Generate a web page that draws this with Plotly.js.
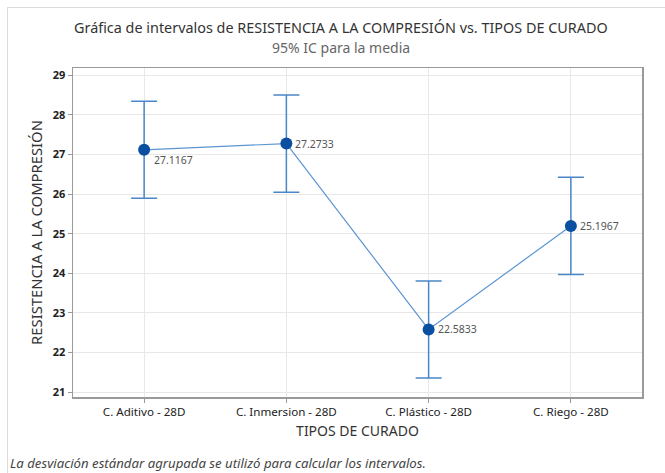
<!DOCTYPE html>
<html>
<head>
<meta charset="utf-8">
<script src="https://cdn.plot.ly/plotly-3.0.1.min.js"></script>
<style>
html,body{margin:0;padding:0;background:#fff;overflow:hidden;}
#frame{position:absolute;left:7px;top:7px;width:700px;height:520px;border-left:1px solid #dcdcdc;border-top:1px solid #dcdcdc;}
#chart{position:absolute;left:0;top:0;width:665px;height:473px;}
</style>
</head>
<body>
<div id="frame"></div>
<div id="chart"></div>
<script>
const categories = ["C. Aditivo - 28D", "C. Inmersion - 28D", "C. Plástico - 28D", "C. Riego - 28D"];
const means = [27.1167, 27.2733, 22.5833, 25.1967];
const ciHalf = [1.225, 1.225, 1.225, 1.225];
const yTicks = [21, 22, 23, 24, 25, 26, 27, 28, 29];

const FONT = "Noto Sans, Open Sans, sans-serif";
const xIdx = categories.map((c, i) => i);

const trace = {
  x: xIdx,
  y: means,
  type: "scatter",
  mode: "lines+markers",
  line: {color: "#5B95D3", width: 1.2},
  marker: {color: "#0B4FA0", size: 12},
  error_y: {type: "data", array: ciHalf, visible: true, color: "#4A87C8", thickness: 1.5, width: 13},
  hoverinfo: "skip",
  showlegend: false
};

const labelAnns = means.map((m, i) => ({
  x: i, y: m, xref: "x", yref: "y",
  text: m.toFixed(4),
  showarrow: false,
  xanchor: "left",
  yanchor: "middle",
  xshift: i === 0 ? 9 : 8,
  yshift: i === 0 ? -10 : 0,
  borderpad: 0,
  font: {family: FONT, size: 10.5, color: "#555"}
}));

const layout = {
  width: 665, height: 473,
  margin: {l: 73, r: 23, t: 68, b: 76},
  paper_bgcolor: "rgba(0,0,0,0)",
  plot_bgcolor: "#fff",
  font: {family: FONT, color: "#333"},
  xaxis: {
    range: [-0.5, 3.5],
    tickvals: xIdx,
    ticktext: categories,
    showgrid: true, gridcolor: "#e8e8e8",
    zeroline: false,
    showline: true, linecolor: "#9a9a9a", linewidth: 1.5, mirror: true,
    ticks: "outside", ticklen: 4, tickcolor: "#9a9a9a",
    tickfont: {family: FONT, size: 11.6, color: "#222"},
    title: {text: "TIPOS DE CURADO", font: {family: FONT, size: 14, color: "#333"}, standoff: 8}
  },
  yaxis: {
    range: [20.88, 29.18],
    tickvals: yTicks,
    showgrid: true, gridcolor: "#e8e8e8",
    zeroline: false,
    showline: true, linecolor: "#9a9a9a", linewidth: 1.5, mirror: true,
    ticks: "outside", ticklen: 4, tickcolor: "#9a9a9a",
    tickfont: {family: FONT, size: 11, color: "#222", weight: "bold"},
    title: {text: "RESISTENCIA A LA COMPRESIÓN", font: {family: FONT, size: 14.8, color: "#333"}, standoff: 6}
  },
  annotations: labelAnns.concat([
    {xref: "paper", yref: "paper", x: 0.5, y: 1, xshift: -17, yshift: 41, xanchor: "center", yanchor: "middle",
     showarrow: false, borderpad: 0, text: "Gráfica de intervalos de RESISTENCIA A LA COMPRESIÓN vs. TIPOS DE CURADO",
     font: {family: FONT, size: 14.4, color: "#333"}},
    {xref: "paper", yref: "paper", x: 0.5, y: 1, xshift: -17, yshift: 21, xanchor: "center", yanchor: "middle",
     showarrow: false, borderpad: 0, text: "95% IC para la media",
     font: {family: FONT, size: 14, color: "#666"}},
    {xref: "paper", yref: "paper", x: 0, y: 0, xshift: -64, yshift: -66, xanchor: "left", yanchor: "middle",
     showarrow: false, borderpad: 0, text: "<i>La desviación estándar agrupada se utilizó para calcular los intervalos.</i>",
     font: {family: FONT, size: 13.2, color: "#444"}}
  ])
};

Plotly.newPlot("chart", [trace], layout, {staticPlot: true, displayModeBar: false});
</script>
</body>
</html>
